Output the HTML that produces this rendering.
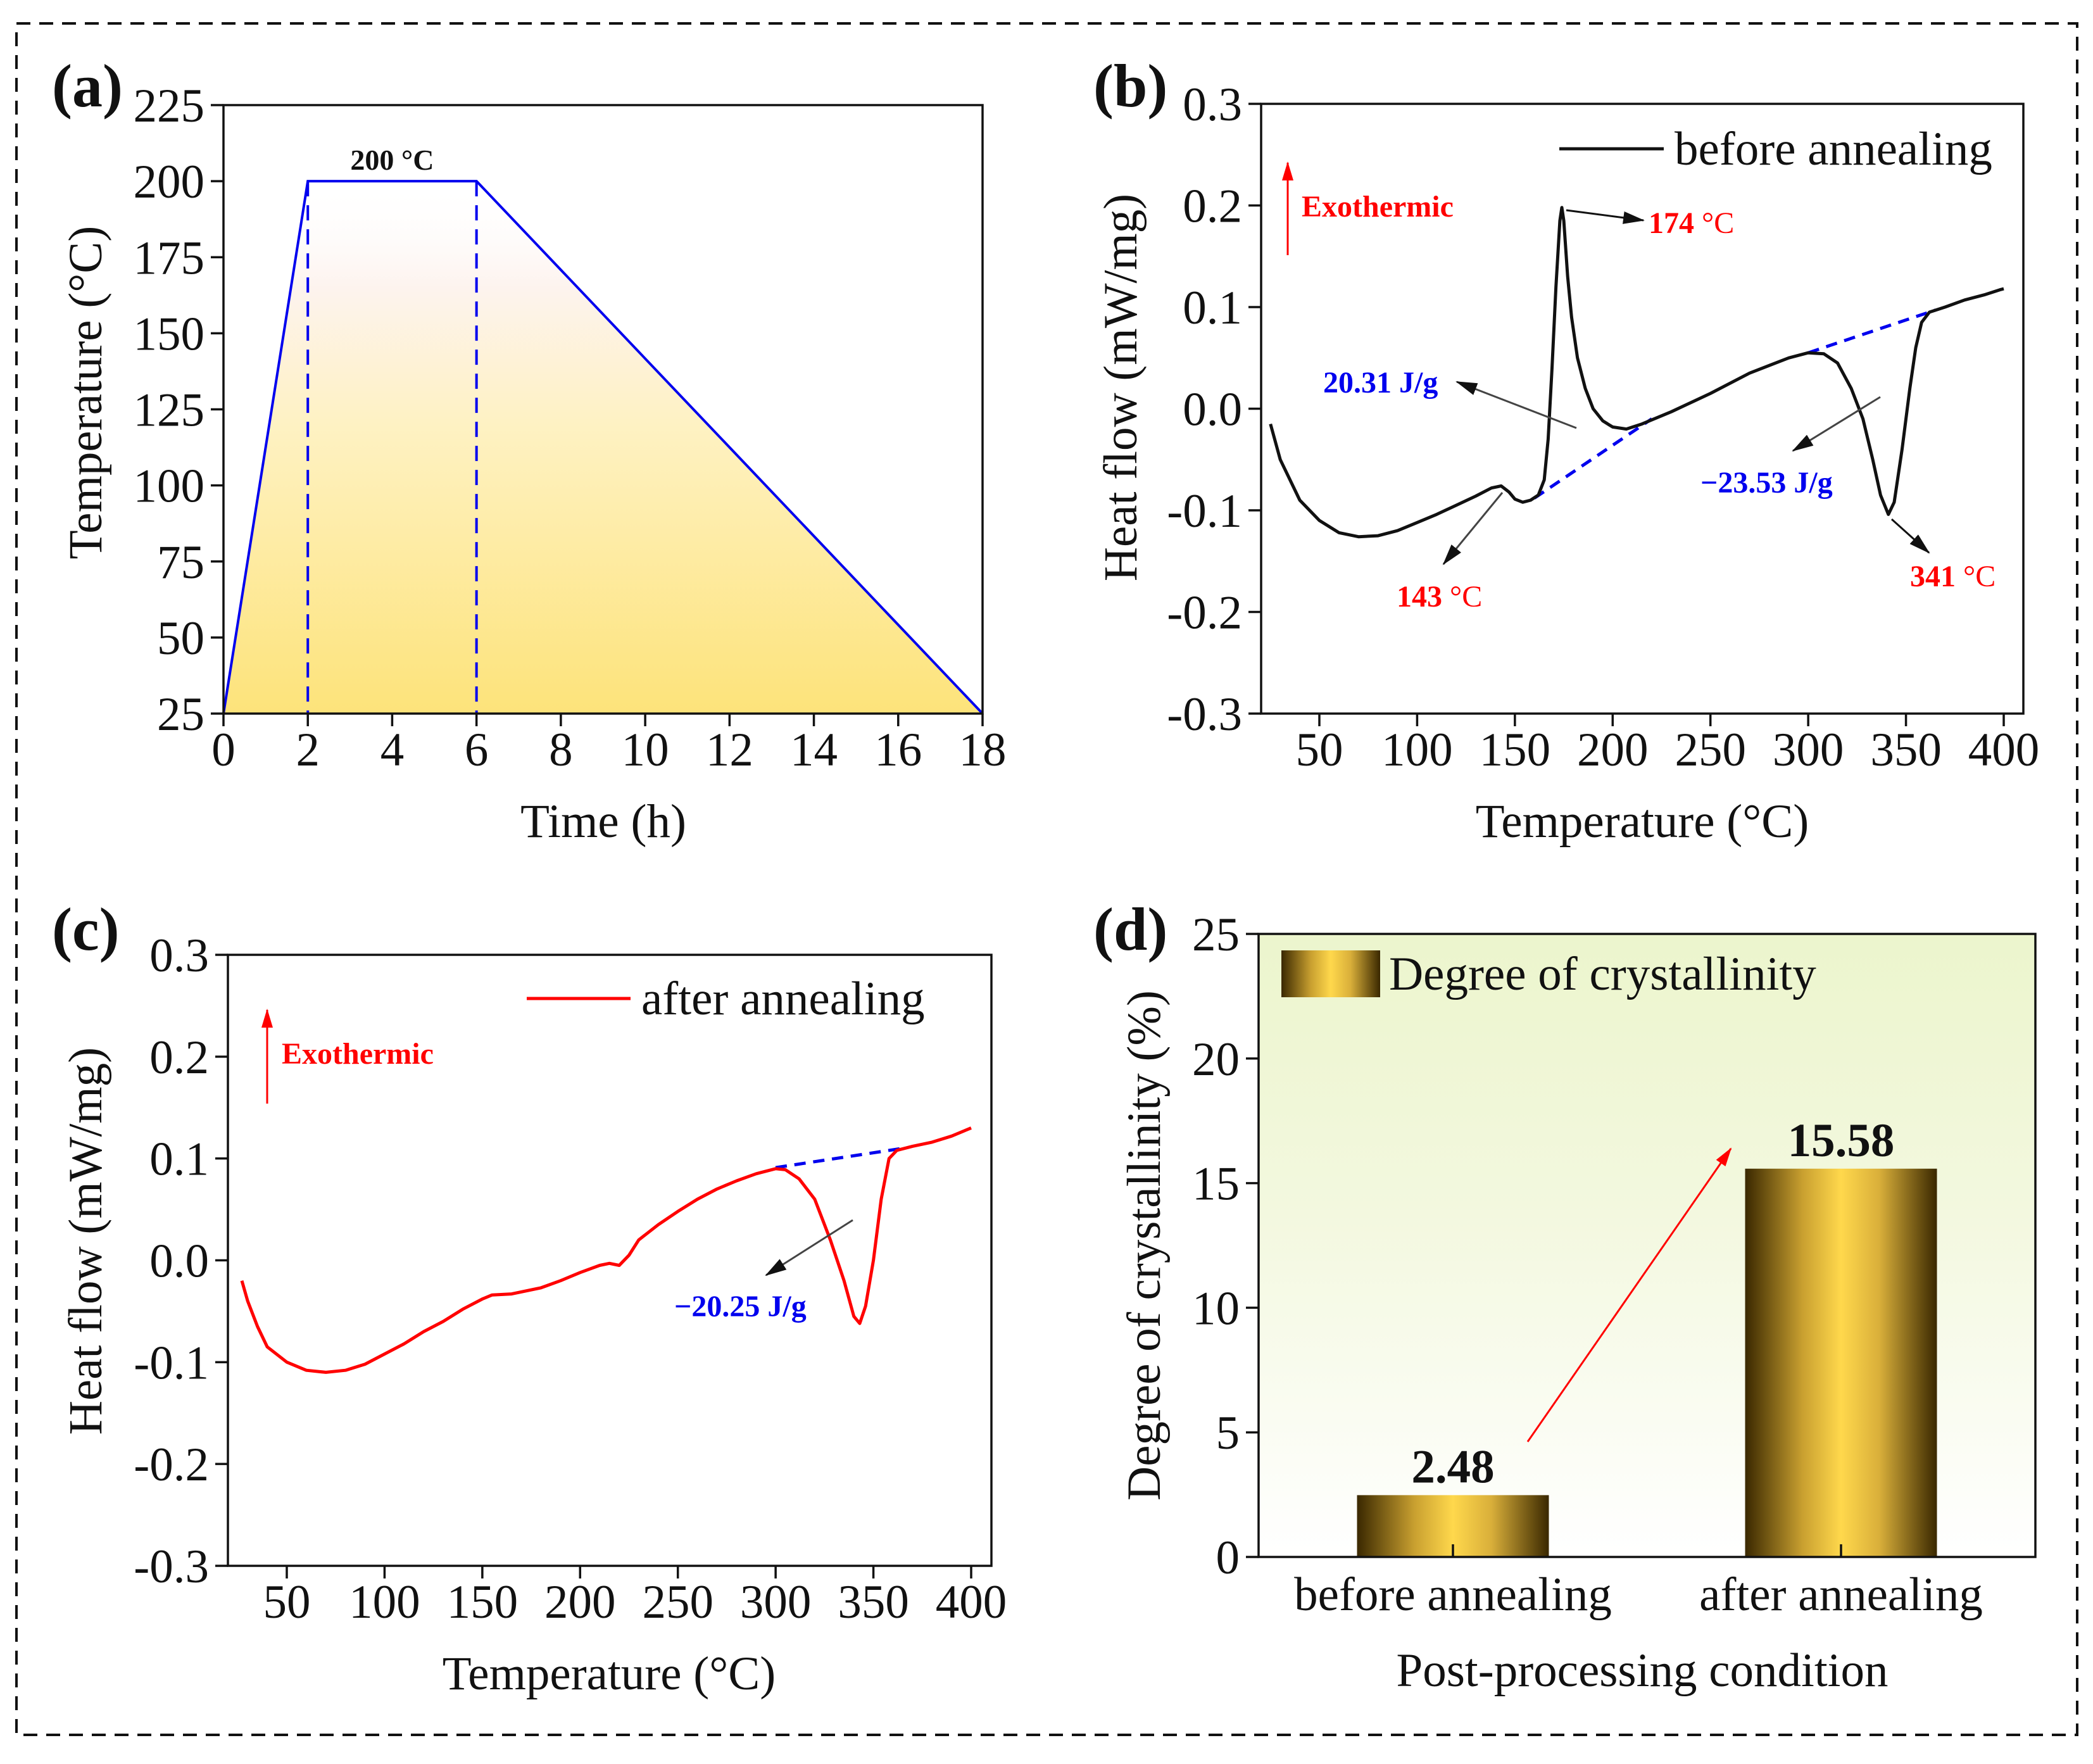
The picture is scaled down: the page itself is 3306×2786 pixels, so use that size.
<!DOCTYPE html>
<html><head><meta charset="utf-8">
<style>
html,body{margin:0;padding:0;background:#fff;}
svg{display:block;font-family:"Liberation Serif",serif;}
</style></head>
<body>
<svg id="fig" width="3306" height="2786" viewBox="0 0 3306 2786" xmlns="http://www.w3.org/2000/svg">
<defs>
<linearGradient id="fillA" x1="0" y1="1" x2="0" y2="0">
<stop offset="0" stop-color="#fde37a"/><stop offset="0.55" stop-color="#fef2c4"/><stop offset="0.8" stop-color="#fdf3ee"/><stop offset="1" stop-color="#ffffff" stop-opacity="0"/>
</linearGradient>
<linearGradient id="bgD" x1="0" y1="0" x2="0" y2="1">
<stop offset="0" stop-color="#ecf5cd"/><stop offset="0.45" stop-color="#f3f8df"/><stop offset="1" stop-color="#ffffff"/>
</linearGradient>
<linearGradient id="barG" x1="0" y1="0" x2="1" y2="0">
<stop offset="0" stop-color="#3a2800"/><stop offset="0.3" stop-color="#c9a030"/><stop offset="0.5" stop-color="#ffd84c"/><stop offset="0.7" stop-color="#d9af3a"/><stop offset="1" stop-color="#3a2800"/>
</linearGradient>
<marker id="arrKb" markerWidth="34" markerHeight="20" refX="32" refY="10" orient="auto" markerUnits="userSpaceOnUse" viewBox="0 0 34 20"><path d="M0,0 L34,10 L0,20z" fill="#111"/></marker>
<marker id="arrR" markerWidth="30" markerHeight="18" refX="28" refY="9" orient="auto" markerUnits="userSpaceOnUse" viewBox="0 0 30 18"><path d="M0,0 L30,9 L0,18z" fill="#f00"/></marker>
</defs>
<rect x="26" y="37" width="3255" height="2703" fill="none" stroke="#111" stroke-width="4" stroke-dasharray="22,14"/>
<g id="root"></g>
</svg>
<script>
// Panel (a) data
const timeH = [0, 2, 6, 18];
const tempC = [25, 200, 200, 25];
const aXTicks = [0,2,4,6,8,10,12,14,16,18];
const aYTicks = [25,50,75,100,125,150,175,200,225];
// Panel (b) data
const bT = [25,30,40,50,60,70,80,90,100,110,120,130,138,143,147,150,154,158,162,165,167,169,171,173,174,175,177,179,182,186,190,195,200,207,215,230,250,270,290,300,308,315,322,328,333,337,341,344,348,352,355,358,362,370,380,390,398,400];
const bH = [-0.015,-0.05,-0.09,-0.11,-0.122,-0.126,-0.125,-0.12,-0.112,-0.104,-0.095,-0.086,-0.078,-0.076,-0.082,-0.089,-0.092,-0.09,-0.085,-0.07,-0.03,0.04,0.12,0.185,0.198,0.185,0.13,0.09,0.05,0.02,0.0,-0.012,-0.018,-0.02,-0.015,-0.003,0.015,0.035,0.05,0.055,0.054,0.045,0.02,-0.01,-0.05,-0.085,-0.104,-0.092,-0.04,0.02,0.06,0.085,0.095,0.1,0.107,0.112,0.117,0.118];
const bBase1T = [160, 220], bBase1H = [-0.088, -0.01];
const bBase2T = [300, 365], bBase2H = [0.055, 0.097];
// Panel (c) data
const cT = [27,30,35,40,50,60,70,80,90,100,110,120,130,140,150,155,165,180,190,200,210,215,220,225,230,240,250,260,270,280,290,300,305,312,320,328,335,340,343,346,350,354,358,362,370,380,390,400];
const cH = [-0.02,-0.04,-0.065,-0.085,-0.1,-0.108,-0.11,-0.108,-0.102,-0.092,-0.082,-0.07,-0.06,-0.048,-0.038,-0.034,-0.033,-0.027,-0.02,-0.012,-0.005,-0.003,-0.005,0.005,0.02,0.035,0.048,0.06,0.07,0.078,0.085,0.09,0.089,0.08,0.06,0.02,-0.02,-0.055,-0.062,-0.045,0.0,0.06,0.1,0.108,0.112,0.116,0.122,0.13];
const cBaseT = [300, 365], cBaseH = [0.091, 0.11];
const dscXTicks = [50,100,150,200,250,300,350,400];
const dscYTicks = [-0.3,-0.2,-0.1,0.0,0.1,0.2,0.3];
const dscYLabels = ['-0.3','-0.2','-0.1','0.0','0.1','0.2','0.3'];
// Panel (d) data
const dCats = ['before annealing','after annealing'];
const dVals = [2.48, 15.58];
const dValLabels = ['2.48','15.58'];
const dYTicks = [0,5,10,15,20,25];

const NS='http://www.w3.org/2000/svg';
const root=document.getElementById('root');
function el(tag, attrs, parent, text){
  const e=document.createElementNS(NS,tag);
  for(const k in attrs) e.setAttribute(k,attrs[k]);
  if(text!==undefined) e.textContent=text;
  (parent||root).appendChild(e);
  return e;
}
function lin(d0,d1,r0,r1){return v=>r0+(v-d0)/(d1-d0)*(r1-r0);}
function pathFrom(xs,ys,sx,sy){return xs.map((v,i)=>(i?'L':'M')+sx(v).toFixed(1)+','+sy(ys[i]).toFixed(1)).join(' ');}
const FS=75;

function axes(g, L,T,R,B, sx, sy, xt, xl, yt, yl, xTitle, xTitleX, xTitleY, yTitle, yTitleX, yTitleY){
  const f=el('rect',{x:L,y:T,width:R-L,height:B-T,fill:'none',stroke:'#111','stroke-width':3.5},g);
   
  xt.forEach((v,i)=>{
    const x=sx(v);
    const tk=el('line',{x1:x,y1:B,x2:x,y2:B+20,stroke:'#111','stroke-width':3.5},g);
     
    const t=el('text',{x:x,y:B+82,'text-anchor':'middle','font-size':FS,fill:'#111'},g,xl[i]);
     
  });
  yt.forEach((v,i)=>{
    const y=sy(v);
    const tk=el('line',{x1:L-20,y1:y,x2:L,y2:y,stroke:'#111','stroke-width':3.5},g);
     
    const t=el('text',{x:L-30,y:y+26,'text-anchor':'end','font-size':FS,fill:'#111'},g,yl[i]);
     
  });
  const xtl=el('text',{x:xTitleX,y:xTitleY,'text-anchor':'middle','font-size':FS,fill:'#111'},g,xTitle);
   
  const ytl=el('text',{x:yTitleX,y:yTitleY,'text-anchor':'middle','font-size':FS,fill:'#111',transform:`rotate(-90 ${yTitleX} ${yTitleY})`},g,yTitle);
   
}
function label(txt,x,y,name){
  const t=el('text',{x:x,y:y,'font-size':96,'font-weight':'bold',fill:'#111'},root,txt);
   
}
function note(txt,x,y,color,name,size){
  const t=el('text',{x:x,y:y,'font-size':size||48,'font-weight':'bold',fill:color},root,txt);
   
  return t;
}
function arrow(x1,y1,x2,y2,marker,color,w,name){
  const a=el('line',{x1:x1,y1:y1,x2:x2,y2:y2,stroke:color,'stroke-width':w,'marker-end':`url(#${marker})`});
   
}

// ===== Panel a =====
(function(){
  const g=el('g',{});  
  const L=353,R=1552,T=166,B=1127;
  const sx=lin(0,18,L,R), sy=lin(25,225,B,T);
  const area=el('path',{d:pathFrom(timeH,tempC,sx,sy)+' Z',fill:'url(#fillA)'},g);
   
  [timeH[1],timeH[2]].forEach((v,i)=>{
    const d=el('line',{x1:sx(v),y1:sy(tempC[i+1]),x2:sx(v),y2:B,stroke:'#0000ee','stroke-width':4,'stroke-dasharray':'24,14'},g);
     
  });
  const ln=el('path',{d:pathFrom(timeH,tempC,sx,sy),fill:'none',stroke:'#0000ee','stroke-width':4},g);
   
  axes(g,L,T,R,B,sx,sy,aXTicks,aXTicks.map(String),aYTicks,aYTicks.map(String),'Time (h)',953,1322,'Temperature (°C)',160,620);
  const t=el('text',{x:(sx(2)+sx(6))/2,y:sy(200)-18,'text-anchor':'middle','font-size':46,'font-weight':'bold',fill:'#111'},g,'200 °C');
   
})();
label('(a)',82,168,'panel-label-a');

// ===== Panel b =====
(function(){
  const g=el('g',{});  
  const L=1992,R=3196,T=164,B=1127;
  const sx=lin(50,400,2084,3165), sy=lin(-0.3,0.3,B,T);
  [[bBase1T,bBase1H],[bBase2T,bBase2H]].forEach(p=>{
    const d=el('path',{d:pathFrom(p[0],p[1],sx,sy),fill:'none',stroke:'#0000ee','stroke-width':5,'stroke-dasharray':'18,12'},g);
     
  });
  const ln=el('path',{d:pathFrom(bT,bH,sx,sy),fill:'none',stroke:'#111','stroke-width':5,'stroke-linejoin':'round'},g);
   
  axes(g,L,T,R,B,sx,sy,dscXTicks,dscXTicks.map(String),dscYTicks,dscYLabels,'Temperature (°C)',2594,1322,'Heat flow (mW/mg)',1795,612);
  const lg=el('line',{x1:2463,y1:235,x2:2628,y2:235,stroke:'#111','stroke-width':5},g);
   
  const lt=el('text',{x:2645,y:260,'font-size':FS,fill:'#111'},g,'before annealing');
   
})();
label('(b)',1727,168,'panel-label-b');
arrow(2034,403,2034,257,'arrR','#f00',3,'exothermic-arrow-b');
note('Exothermic',2056,342,'#f00','exothermic-label-b');
arrow(2474,332,2596,348,'arrKb','#111',3,'peak-174-arrow');
note('174',2604,368,'#f00','peak-174-label').innerHTML='174<tspan font-weight="normal"> °C</tspan>';
arrow(2490,676,2301,603,'arrKb','#444',3,'enthalpy-20-31-arrow');
note('20.31 J/g',2090,620,'#0000ee','enthalpy-20-31-label');
arrow(2373,778,2280,891,'arrKb','#444',3,'peak-143-arrow');
note('143',2206,958,'#f00','peak-143-label').innerHTML='143<tspan font-weight="normal"> °C</tspan>';
arrow(2970,627,2832,712,'arrKb','#444',3,'enthalpy-23-53-arrow');
note('−23.53 J/g',2686,778,'#0000ee','enthalpy-23-53-label');
arrow(2988,820,3047,873,'arrKb','#111',3,'peak-341-arrow');
note('341',3017,926,'#f00','peak-341-label').innerHTML='341<tspan font-weight="normal"> °C</tspan>';

// ===== Panel c =====
(function(){
  const g=el('g',{});  
  const L=360,R=1566,T=1508,B=2473;
  const sx=lin(50,400,453,1534), sy=lin(-0.3,0.3,B,T);
  const d=el('path',{d:pathFrom(cBaseT,cBaseH,sx,sy),fill:'none',stroke:'#0000ee','stroke-width':5,'stroke-dasharray':'18,12'},g);
   
  const ln=el('path',{d:pathFrom(cT,cH,sx,sy),fill:'none',stroke:'#f00','stroke-width':5,'stroke-linejoin':'round'},g);
   
  axes(g,L,T,R,B,sx,sy,dscXTicks,dscXTicks.map(String),dscYTicks,dscYLabels,'Temperature (°C)',962,2668,'Heat flow (mW/mg)',160,1960);
  const lg=el('line',{x1:832,y1:1577,x2:996,y2:1577,stroke:'#f00','stroke-width':5},g);
   
  const lt=el('text',{x:1013,y:1602,'font-size':FS,fill:'#111'},g,'after annealing');
   
})();
label('(c)',82,1500,'panel-label-c');
arrow(422,1743,422,1595,'arrR','#f00',3,'exothermic-arrow-c');
note('Exothermic',445,1680,'#f00','exothermic-label-c');
arrow(1347,1927,1210,2014,'arrKb','#444',3,'enthalpy-20-25-arrow');
note('−20.25 J/g',1065,2079,'#0000ee','enthalpy-20-25-label');

// ===== Panel d =====
(function(){
  const g=el('g',{});  
  const L=1988,R=3215,T=1475,B=2459;
  const sy=lin(0,25,B,T);
  const cx=[2295,2908], bw=303;
  const bg=el('rect',{x:L,y:T,width:R-L,height:B-T,fill:'url(#bgD)'},g);
   
  dVals.forEach((v,i)=>{
    const b=el('rect',{x:cx[i]-bw/2,y:sy(v),width:bw,height:B-sy(v),fill:'url(#barG)'},g);
     
    const t=el('text',{x:cx[i],y:sy(v)-20,'text-anchor':'middle','font-size':FS,'font-weight':'bold',fill:'#111'},g,dValLabels[i]);
     
  });
  const f=el('rect',{x:L,y:T,width:R-L,height:B-T,fill:'none',stroke:'#111','stroke-width':3.5},g);
   
  dCats.forEach((c,i)=>{
    const tk=el('line',{x1:cx[i],y1:B,x2:cx[i],y2:B-20,stroke:'#111','stroke-width':3.5},g);
     
    const t=el('text',{x:cx[i],y:B+84,'text-anchor':'middle','font-size':FS,fill:'#111'},g,c);
     
  });
  dYTicks.forEach(v=>{
    const y=sy(v);
    const tk=el('line',{x1:L-20,y1:y,x2:L,y2:y,stroke:'#111','stroke-width':3.5},g);
     
    const t=el('text',{x:L-30,y:y+26,'text-anchor':'end','font-size':FS,fill:'#111'},g,String(v));
     
  });
  const xt=el('text',{x:2594,y:2663,'text-anchor':'middle','font-size':FS,fill:'#111'},g,'Post-processing condition');
   
  const yt=el('text',{x:1832,y:1967,'text-anchor':'middle','font-size':FS,fill:'#111',transform:'rotate(-90 1832 1967)'},g,'Degree of crystallinity (%)');
   
  const sw=el('rect',{x:2024,y:1501,width:156,height:74,fill:'url(#barG)'},g);
   
  const lt=el('text',{x:2194,y:1563,'font-size':FS,fill:'#111'},g,'Degree of crystallinity');
   
})();
label('(d)',1727,1500,'panel-label-d');
arrow(2413,2277,2734,1814,'arrR','#f00',3,'increase-arrow');
</script>
</body></html>
